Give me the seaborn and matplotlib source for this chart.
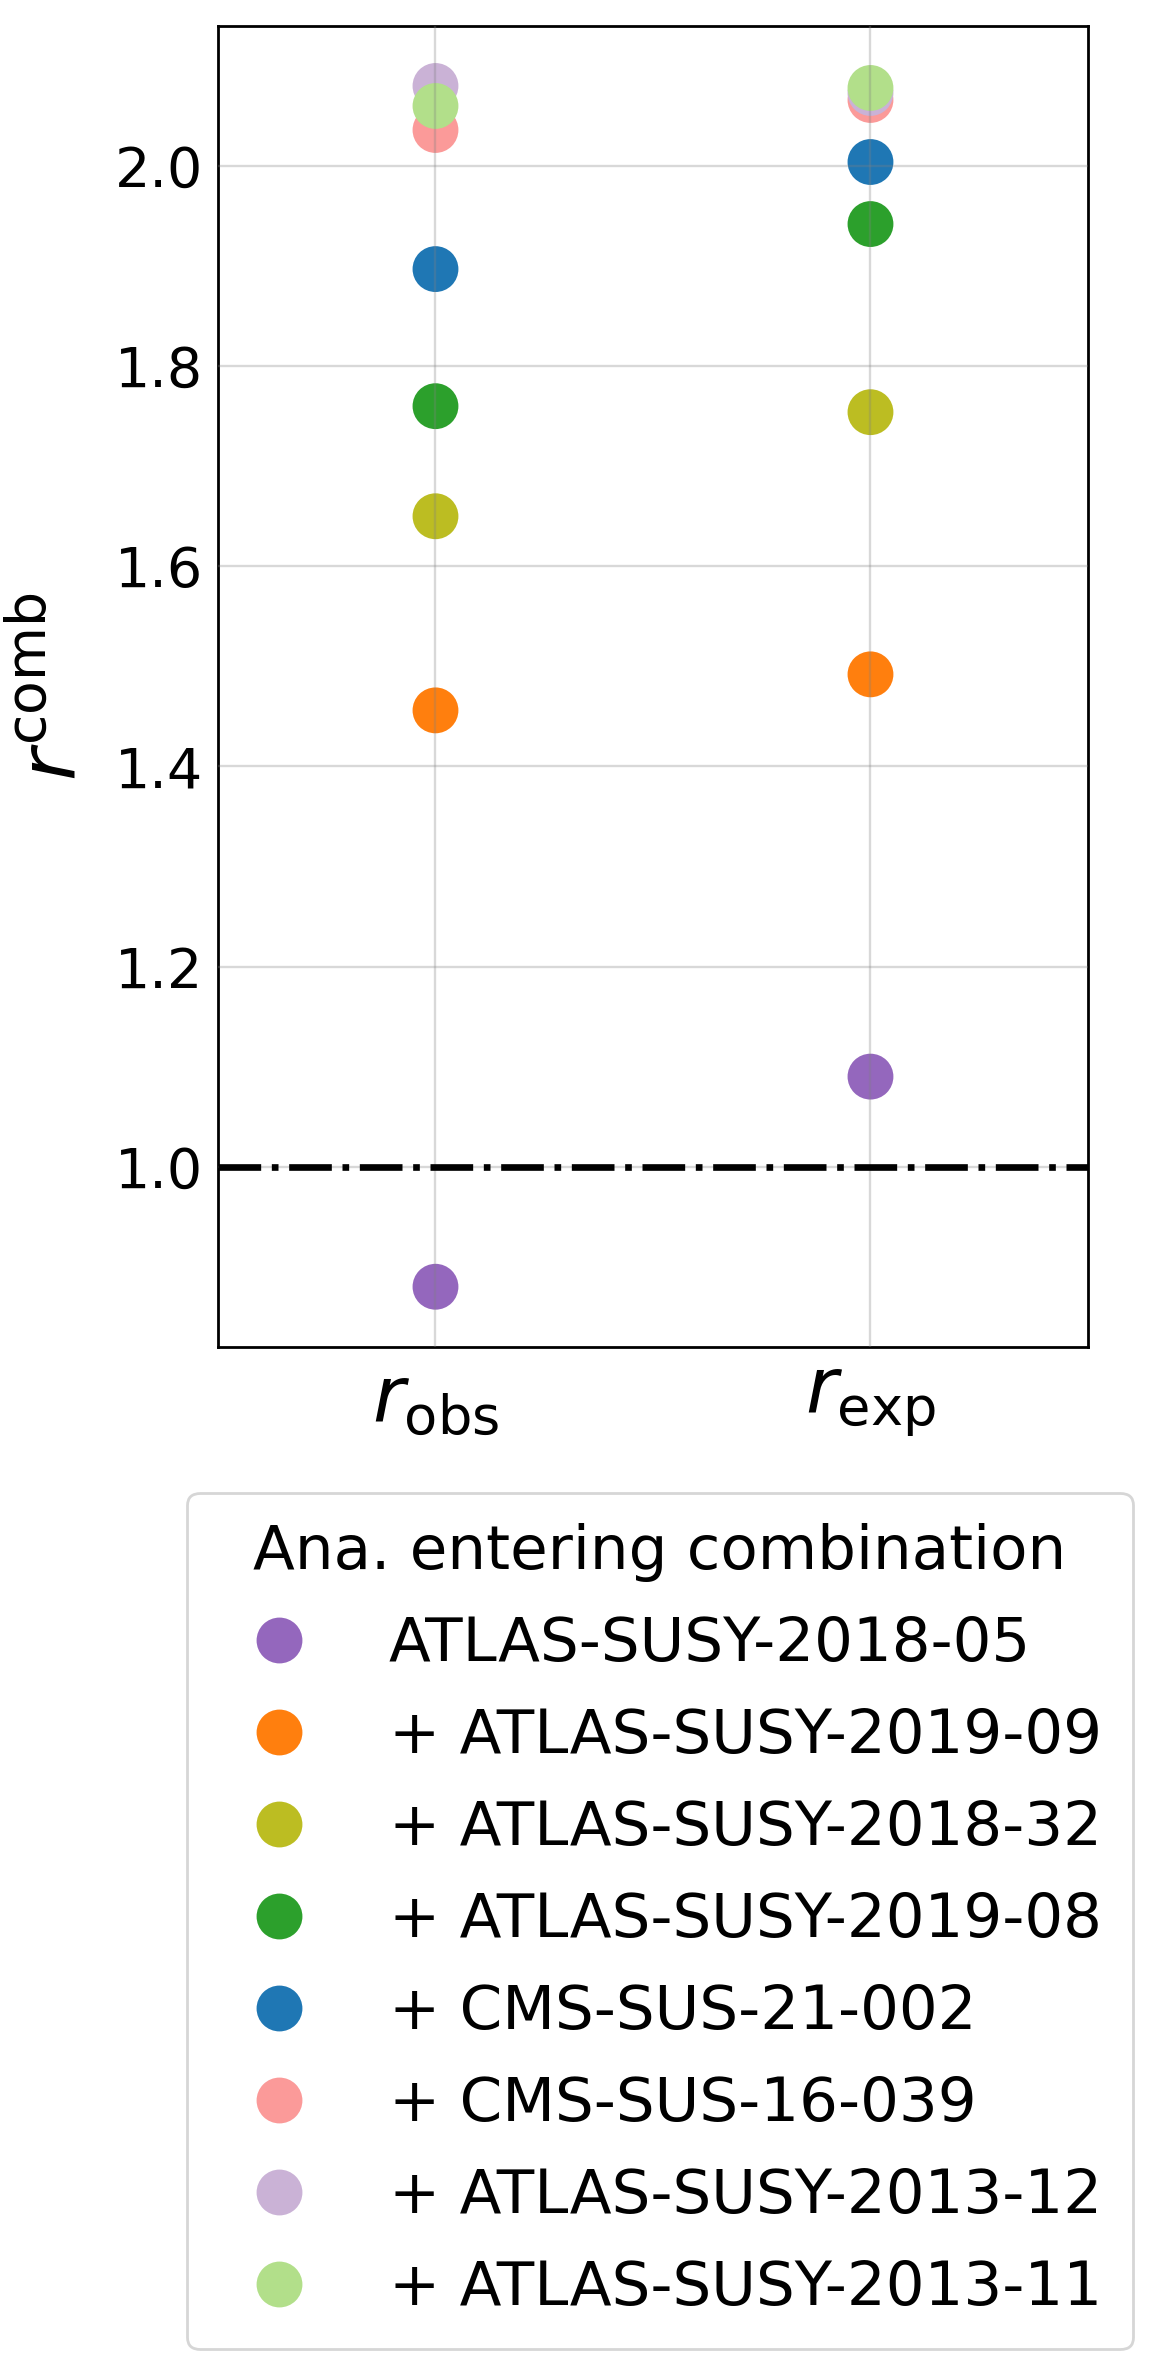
import numpy as np
import pandas as pd
import seaborn as sns
import matplotlib
matplotlib.use("Agg")
from matplotlib import pyplot as plt
from matplotlib.lines import Line2D

# analyses, in the order they enter the combination
analyses = ['ATLAS-SUSY-2018-05', '+ ATLAS-SUSY-2019-09', '+ ATLAS-SUSY-2018-32',
            '+ ATLAS-SUSY-2019-08', '+ CMS-SUS-21-002', '+ CMS-SUS-16-039',
            '+ ATLAS-SUSY-2013-12', '+ ATLAS-SUSY-2013-11']
colors = ['#9467bd', '#ff7f0e', '#bcbd22', '#2ca02c', '#1f77b4',
          '#fb9a99', '#cab2d6', '#b2df8a']
r_labels = [r'$r_{\rm obs}$', r'$r_{\rm exp}$']
r_obs = [0.880, 1.456, 1.650, 1.760, 1.897, 2.036, 2.080, 2.060]
r_exp = [1.090, 1.492, 1.754, 1.942, 2.004, 2.066, 2.073, 2.078]

df = pd.DataFrame({
    'r': [r_labels[0]] * len(analyses) + [r_labels[1]] * len(analyses),
    'value': r_obs + r_exp,
    'analysis': analyses + analyses,
})
palette = dict(zip(analyses, colors))

sns.set_style('white')
plt.rcParams['font.family'] = ['DejaVu Sans']
plt.rcParams['mathtext.fontset'] = 'dejavusans'
for k in ['text.color', 'axes.labelcolor', 'xtick.color', 'ytick.color']:
    plt.rcParams[k] = 'black'

fig, ax = plt.subplots(figsize=(11.62, 23.57), dpi=100)
fig.subplots_adjust(left=0.1876, right=0.9363, top=0.9890, bottom=0.4286)

sns.stripplot(data=df, x='r', y='value', hue='analysis', hue_order=analyses,
              order=r_labels, palette=palette, jitter=False, dodge=False,
              size=33, linewidth=0, legend=False, ax=ax, zorder=2)

ax.axhline(1.0, color='k', ls='-.', lw=4.8, zorder=4)

ax.set_xlim(-0.5, 1.5)
ax.set_ylim(0.82, 2.14)
ax.set_axisbelow(False)
ax.grid(True, color='grey', alpha=0.3, lw=1.7, zorder=3)
ax.xaxis.grid(True)

for sp in ax.spines.values():
    sp.set_visible(True)
    sp.set_color('k')
    sp.set_linewidth(2.0)

ax.tick_params(axis='y', direction='in', length=17, width=2.2, pad=11, labelsize=40,
               colors='black')
ax.tick_params(axis='x', direction='in', length=17, width=1.2, pad=12, labelsize=56,
               colors='black')
ax.set_xlabel('')
ax.set_ylabel(r'$r^{\rm comb}$', fontsize=57, labelpad=16, color='black')

handles = [Line2D([], [], ls='', marker='o', markersize=33, markeredgewidth=0,
                  color=c) for c in colors]
leg = ax.legend(handles, analyses, title='Ana. entering combination',
                loc='upper center', bbox_to_anchor=(0.568, 0.3796),
                bbox_transform=fig.transFigure, fontsize=44, title_fontsize=44,
                labelspacing=0.54, borderpad=0.5, frameon=True, edgecolor='0.8')
leg.get_frame().set_linewidth(2.0)
for t in leg.get_texts():
    t.set_color('black')
leg.get_title().set_color('black')

fig.savefig('out.png', dpi=100)
